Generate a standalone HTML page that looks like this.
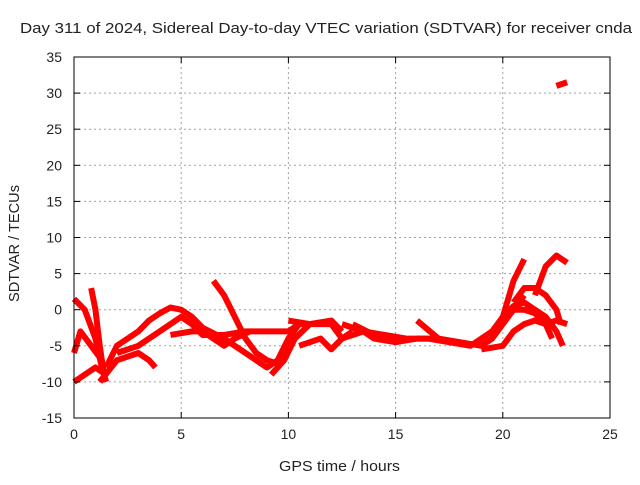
<!DOCTYPE html>
<html><head><meta charset="utf-8"><style>
body{margin:0;background:#fff}
svg text{font-family:"Liberation Sans",sans-serif;font-size:14px;fill:#222}
</style></head><body>
<svg id="c" width="640" height="480">
<rect width="640" height="480" fill="#fff"/>
<text x="20" y="33" textLength="612" lengthAdjust="spacingAndGlyphs" style="font-size:15px">Day 311 of 2024, Sidereal Day-to-day VTEC variation (SDTVAR) for receiver cnda</text>
<text x="279" y="471" textLength="121" lengthAdjust="spacingAndGlyphs" style="font-size:15px">GPS time / hours</text>
<text transform="translate(19,302) rotate(-90)" textLength="117" lengthAdjust="spacingAndGlyphs" style="font-size:15px">SDTVAR / TECUs</text>
<g id="grid"></g><g id="marks"></g><g id="axes"></g>
</svg>
<script>
const xTicks=[0,5,10,15,20,25];
const yTicks=[-15,-10,-5,0,5,10,15,20,25,30,35];
const tracks=[
[[0,1.5],[0.5,0],[1,-4],[1.3,-8],[1.5,-10]],
[[0.8,3],[1,0],[1.2,-5],[1.4,-9]],
[[0,-6],[0.3,-3],[0.8,-5],[1.3,-7]],
[[0,-10],[0.5,-9],[1,-8],[1.5,-9]],
[[1.5,-8],[2,-5],[2.5,-4],[3,-3],[3.5,-1.5],[4,-0.5],[4.5,0.3],[5,0],[5.5,-1],[6,-2.5],[7,-4],[8,-6],[9,-8],[9.5,-7],[10,-4],[10.5,-2]],
[[1.2,-10],[2,-7],[3,-6],[3.5,-7],[3.8,-8]],
[[2,-6],[3,-5],[4,-3],[4.5,-2],[5,-1],[5.5,-2],[6,-3.5],[7,-3.5],[8,-3],[9,-3],[10,-3],[10.5,-2],[11,-2]],
[[6.5,4],[7,2],[7.5,-1],[8,-4],[8.5,-6],[9,-7],[9.5,-7.5],[10,-5]],
[[4.5,-3.5],[5.5,-3],[6,-3],[7,-5],[7.5,-4],[8.2,-3]],
[[9.2,-9],[9.8,-7],[10.3,-4],[11,-2],[12,-2],[12.5,-4],[13,-3]],
[[10,-1.5],[11,-2],[12,-1.5],[12.5,-3]],
[[10.5,-5],[11.5,-4],[12,-5.5],[12.5,-4],[13.5,-3],[14,-4],[15,-4.5],[16,-4],[17,-4],[18,-4.5],[19,-5],[19.5,-4],[20,-2],[20.5,0],[21,2]],
[[12.5,-2],[13.5,-3],[14.5,-3.5],[15.5,-4],[16.5,-4],[17.5,-4.5],[18.5,-5],[19,-4],[19.5,-3],[20,-1],[20.5,4],[21,7]],
[[13,-2],[14,-3.5]],
[[16,-1.5],[17,-4]],
[[19,-5.5],[20,-5],[20.5,-3],[21,-2],[21.5,-1.5],[22,-2],[22.5,-1.5],[23,-2]],
[[20,-1],[20.5,0.5],[21,1],[21.5,0],[22,-1],[22.5,-3],[22.8,-5]],
[[20.5,1],[21,3],[21.5,3],[22,2],[22.5,0],[22.7,-2]],
[[21.5,2],[22,6],[22.5,7.5],[23,6.5]],
[[20,0],[21,0],[21.5,-0.5],[22,-2],[22.3,-4]],
[[22.5,31],[23,31.5]]
];
const NS="http://www.w3.org/2000/svg";
const L=74,R=610,T=57,B=418;
const xs=v=>L+(v-0)/25*(R-L);
const ys=v=>B-(v+15)/50*(B-T);
const g=document.getElementById('grid'),m=document.getElementById('marks'),a=document.getElementById('axes');
function mk(p,tag,at){const e=document.createElementNS(NS,tag);for(const k in at)e.setAttribute(k,at[k]);p.appendChild(e);return e;}
xTicks.forEach(t=>{const x=xs(t);
 if(t>0&&t<25){const ln=mk(g,'line',{x1:x,x2:x,y1:T,y2:B,stroke:'#a0a0a0','stroke-dasharray':'2,3'});
 
 }
 mk(a,'line',{x1:x,x2:x,y1:B,y2:B-6,stroke:'#000'});mk(a,'line',{x1:x,x2:x,y1:T,y2:T+6,stroke:'#000'});
 const tx=mk(a,'text',{x:x,y:B+21,'text-anchor':'middle'});tx.textContent=t;
 
 });
yTicks.forEach(t=>{const y=ys(t);
 if(t>-15&&t<35){const ln=mk(g,'line',{x1:L,x2:R,y1:y,y2:y,stroke:'#a0a0a0','stroke-dasharray':'2,3'});
 
 }
 mk(a,'line',{x1:L,x2:L+6,y1:y,y2:y,stroke:'#000'});mk(a,'line',{x1:R,x2:R-6,y1:y,y2:y,stroke:'#000'});
 const tx=mk(a,'text',{x:L-12,y:y+5,'text-anchor':'end'});tx.textContent=t;
 
 });
const fr=mk(a,'rect',{x:L,y:T,width:R-L,height:B-T,fill:'none',stroke:'#000'});


tracks.forEach(tr=>{const p=mk(m,'polyline',{points:tr.map(d=>xs(d[0])+','+ys(d[1])).join(' '),fill:'none',stroke:'#ff0000','stroke-width':6,'stroke-linejoin':'round'});
 
 });
</script>
</body></html>
